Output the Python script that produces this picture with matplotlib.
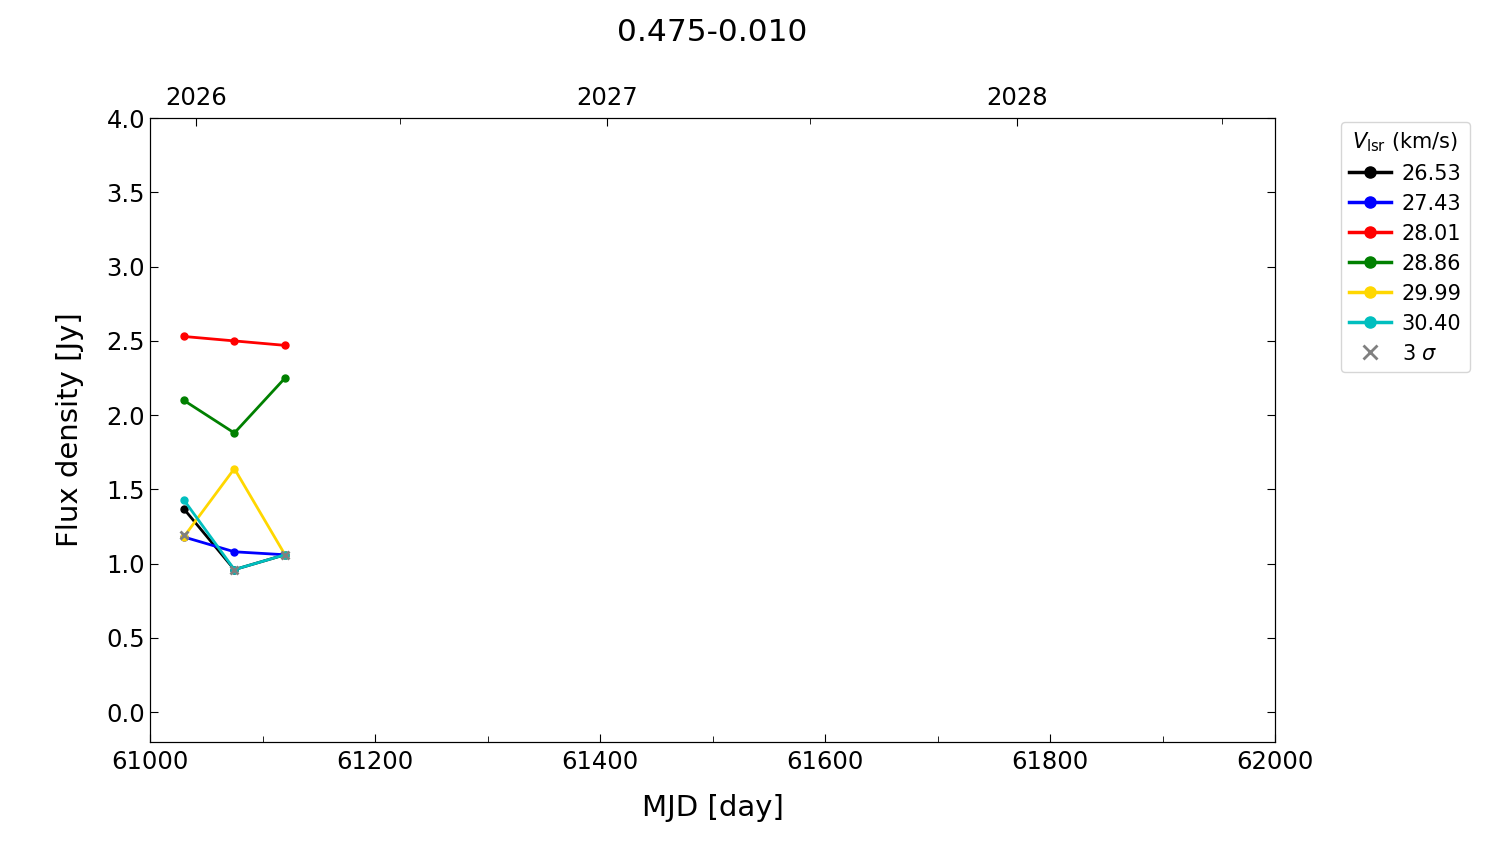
import matplotlib
matplotlib.use('Agg')
import matplotlib.pyplot as plt
from matplotlib.ticker import MultipleLocator, FixedLocator

mjd = [61030, 61075, 61120]
vlsr = ['26.53', '27.43', '28.01', '28.86', '29.99', '30.40']
colors = ['black', 'blue', 'red', 'green', 'gold', 'c']
flux = [
    [1.37, 0.96, 1.06],
    [1.18, 1.08, 1.06],
    [2.53, 2.50, 2.47],
    [2.10, 1.88, 2.25],
    [1.18, 1.64, 1.06],
    [1.43, 0.96, 1.06],
]
sigma3 = [1.19, 0.96, 1.06]

years = [2026, 2027, 2028]
year_mjd = [61041, 61406, 61771]
halfyear_mjd = [61222, 61587, 61953]

fig = plt.figure(figsize=(15, 8.44), dpi=100)
ax = fig.add_axes([0.1, 0.121, 0.75, 0.739])

for v, c, f in zip(vlsr, colors, flux):
    ax.plot(mjd, f, '-o', color=c, lw=2, ms=5, label=v)
ax.plot(mjd, sigma3, 'x', color='gray', ms=6, mew=2, label='3 $\\sigma$', zorder=5)

ax.set_xlim(61000, 62000)
ax.set_ylim(-0.2, 4.0)
ax.xaxis.set_major_locator(MultipleLocator(200))
ax.xaxis.set_minor_locator(MultipleLocator(100))
ax.yaxis.set_major_locator(MultipleLocator(0.5))
ax.tick_params(which='both', direction='in', right=True, labelsize=17.5)
ax.tick_params(axis='x', pad=6)
ax.tick_params(which='major', length=6)
ax.tick_params(which='minor', length=4)
ax.set_xlabel('MJD [day]', fontsize=21, labelpad=14)
ax.set_ylabel('Flux density [Jy]', fontsize=21, labelpad=16)

top = ax.twiny()
top.set_xlim(ax.get_xlim())
top.xaxis.set_major_locator(FixedLocator(year_mjd))
top.xaxis.set_minor_locator(FixedLocator(halfyear_mjd))
top.set_xticklabels([str(y) for y in years])
top.tick_params(which='both', direction='in', labelsize=17.5, pad=6)
top.tick_params(which='major', length=6)
top.tick_params(which='minor', length=4)

fig.text(0.475, 0.961, '0.475-0.010', fontsize=22.5, ha='center', va='center')

leg = ax.legend(title='$V_{\\rm lsr}$ (km/s)', loc='upper left',
                bbox_to_anchor=(1.0495, 1.011), fontsize=15, title_fontsize=15,
                markerscale=1.6, handlelength=2.0, handletextpad=0.5,
                labelspacing=0.48)
for h in leg.legend_handles[:-1]:
    h.set_linewidth(2.5)

fig.savefig('out.png', dpi=100)
